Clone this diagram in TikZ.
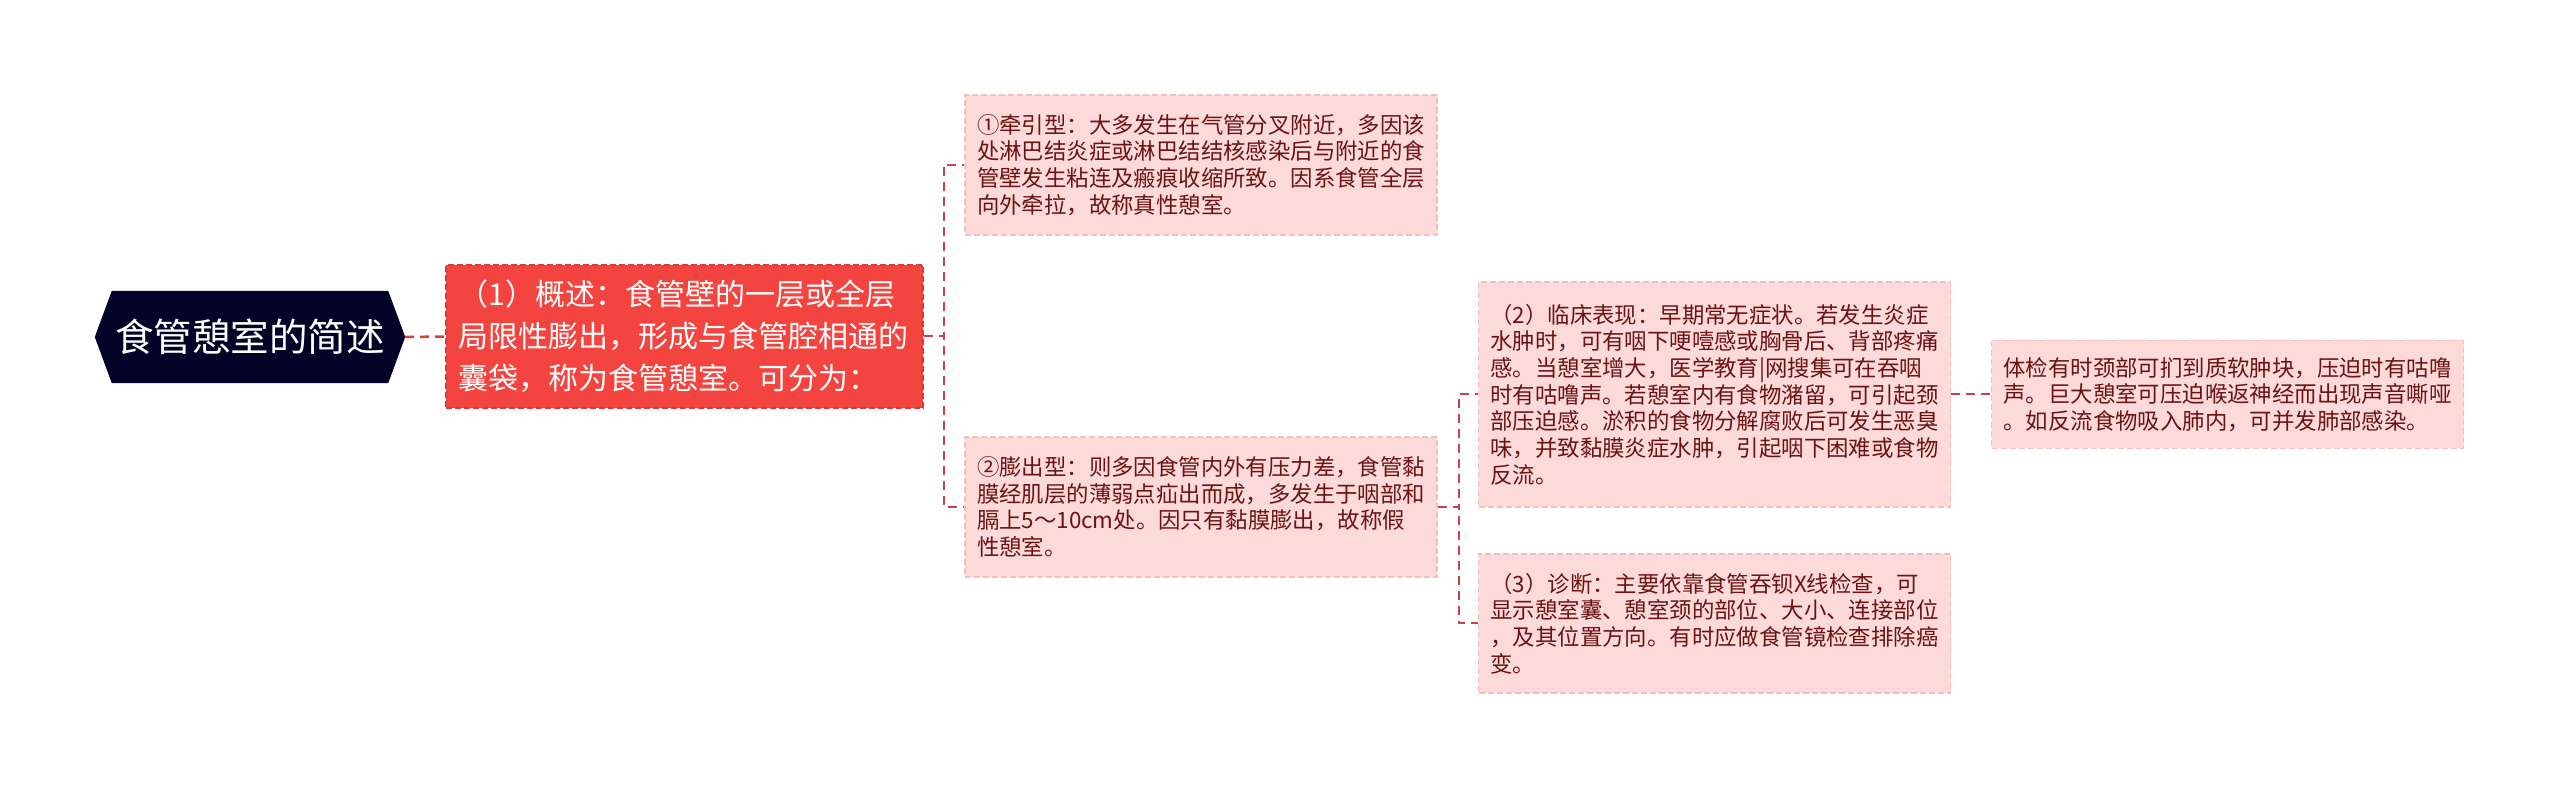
\documentclass[tikz,border=0pt]{standalone}
\usepackage{fontspec}
\setmainfont{Noto Sans CJK SC}
\usetikzlibrary{calc}
\definecolor{rootc}{HTML}{020327}
\definecolor{redc}{HTML}{F4443F}
\definecolor{redb}{HTML}{DB3A35}
\definecolor{pinkc}{HTML}{FDDADA}
\definecolor{pinkb}{HTML}{F2BFBF}
\definecolor{txtc}{HTML}{6B1313}
\definecolor{linec}{HTML}{C8424B}
\pgfdeclarelayer{background}
\pgfsetlayers{background,main}
\begin{document}
\begin{tikzpicture}[x=1pt,y=1pt,
  leaf/.style={draw=pinkb, dash pattern=on 6pt off 3pt, line width=1.2pt, fill=pinkc, text=txtc,
    inner xsep=12pt, inner ysep=0pt, text width=448pt, align=left,
    font=\fontsize{22.4}{26.7}\selectfont, anchor=center},
  mainbox/.style={draw=redb, dash pattern=on 6pt off 3pt, line width=1.2pt, fill=redc, text=white,
    inner xsep=12.5pt, inner ysep=0pt, text width=452pt, align=left,
    font=\fontsize{30}{42}\selectfont, anchor=center, minimum height=143pt},
  rootbox/.style={text=white, inner sep=0pt, minimum width=310pt, minimum height=92pt,
    font=\fontsize{38.5}{46}\selectfont, anchor=center},
  conn/.style={draw=linec, line width=2pt, dash pattern=on 9pt off 6pt},
]
\begin{pgfonlayer}{background}
\fill[white] (0,0) rectangle (2560,789);
\end{pgfonlayer}
\useasboundingbox (0,0) rectangle (2560,789);

\node[rootbox] (root) at (250,452) {食管憩室的简述};
\begin{pgfonlayer}{background}
\fill[rootc] (root.west) -- ([xshift=17pt]root.north west) -- ([xshift=-17pt]root.north east)
  -- (root.east) -- ([xshift=-17pt]root.south east) -- ([xshift=17pt]root.south west) -- cycle;
\end{pgfonlayer}

\node[mainbox] (n1) at (684.5,452.5) {（1）概述：食管壁的一层或全层\\局限性膨出，形成与食管腔相通的\\囊袋，称为食管憩室。可分为：};

\node[leaf, minimum height=140pt] (a) at (1201,624) {①牵引型：大多发生在气管分叉附近，多因该\\处淋巴结炎症或淋巴结结核感染后与附近的食\\管壁发生粘连及瘢痕收缩所致。因系食管全层\\向外牵拉，故称真性憩室。};

\node[leaf, minimum height=140pt] (b) at (1201,282) {②膨出型：则多因食管内外有压力差，食管黏\\膜经肌层的薄弱点疝出而成，多发生于咽部和\\膈上5～10cm处。因只有黏膜膨出，故称假\\性憩室。};

\node[leaf, minimum height=225pt] (c) at (1714.5,394.5) {（2）临床表现：早期常无症状。若发生炎症\\水肿时，可有咽下哽噎感或胸骨后、背部疼痛\\感。当憩室增大，医学教育|网搜集可在吞咽\\时有咕噜声。若憩室内有食物潴留，可引起颈\\部压迫感。淤积的食物分解腐败后可发生恶臭\\味，并致黏膜炎症水肿，引起咽下困难或食物\\反流。};

\node[leaf, minimum height=139pt] (d) at (1714.5,165.5) {（3）诊断：主要依靠食管吞钡X线检查，可\\显示憩室囊、憩室颈的部位、大小、连接部位\\，及其位置方向。有时应做食管镜检查排除癌\\变。};

\node[leaf, minimum height=108pt] (e) at (2227.5,394.5) {体检有时颈部可扪到质软肿块，压迫时有咕噜\\声。巨大憩室可压迫喉返神经而出现声音嘶哑\\。如反流食物吸入肺内，可并发肺部感染。};

\draw[conn, draw=redc!90!black, line width=2.5pt] (root.east) -- (n1.west);
\draw[conn] (n1.east) -- ++(20,0) |- (a.west);
\draw[conn] (n1.east) -- ++(20,0) |- (b.west);
\draw[conn] (b.east) -- ++(21,0) |- (c.west);
\draw[conn] (b.east) -- ++(21,0) |- (d.west);
\draw[conn] (c.east) -- (e.west);
\end{tikzpicture}
\end{document}
